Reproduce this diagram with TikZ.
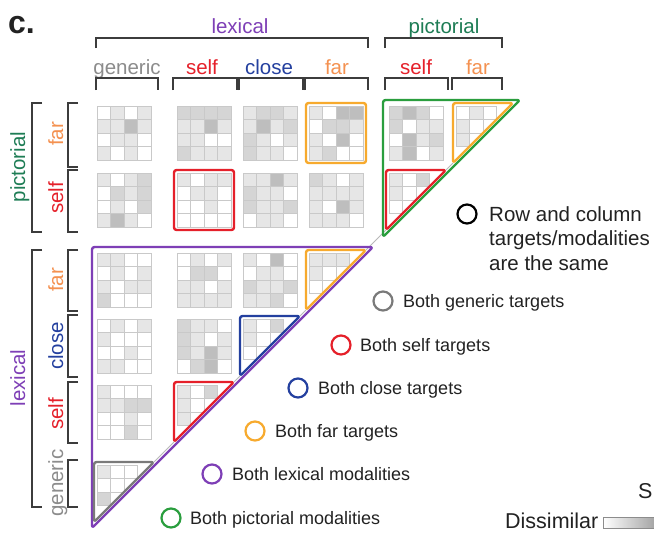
\documentclass[tikz,border=0pt]{standalone}
\usepackage{fontspec}
\setmainfont{Liberation Sans}
\usetikzlibrary{calc}
\definecolor{lexpurple}{HTML}{7E3FB6}
\definecolor{picgreen}{HTML}{1E7D55}
\definecolor{picline}{HTML}{2A9E3E}
\definecolor{selfred}{HTML}{E5202A}
\definecolor{closeblue}{HTML}{24409F}
\definecolor{fartext}{HTML}{F49150}
\definecolor{farline}{HTML}{F7AA2E}
\definecolor{gengray}{HTML}{8C8C8C}
\definecolor{genline}{HTML}{7A7A7A}
\definecolor{brackgray}{HTML}{3C3C3C}
\definecolor{ink}{HTML}{222222}
\definecolor{cellline}{HTML}{C9C9C9}
\definecolor{shade0}{HTML}{FFFFFF}
\definecolor{shade1}{HTML}{E6E6E6}
\definecolor{shade2}{HTML}{D5D5D5}
\definecolor{shade3}{HTML}{BEBEBE}

% full 4x4 block, shades given row by row
\newcommand\cellgrid[3]{%
  \foreach \s [count=\k from 0] in {#3} {%
    \pgfmathtruncatemacro\ci{div(\k,4)}%
    \pgfmathtruncatemacro\cj{mod(\k,4)}%
    \filldraw[cell, fill=shade\s] (#1+\cj*13.5, #2+\ci*13.5) rectangle ++(13.5,13.5);
  }}
% upper-left half of a block on the diagonal
\newcommand\trigrid[3]{%
  \foreach \s [count=\k from 0] in {#3} {%
    \pgfmathtruncatemacro\ci{{0,0,0,1,1,2}[\k]}%
    \pgfmathtruncatemacro\cj{{0,1,2,0,1,0}[\k]}%
    \filldraw[cell, fill=shade\s] (#1+\cj*13.5, #2+\ci*13.5) rectangle ++(13.5,13.5);
  }}
\newcommand\diagtri[3]{%
  \draw[hilite, draw=#1] (#2-3,#3-3) -- (#2+57,#3-3) -- (#2-3,#3+57) -- cycle;}

\begin{document}
\begin{tikzpicture}[x=1pt, y=-1pt, ink,
  cell/.style={draw=cellline, line width=0.6pt},
  hilite/.style={line width=2.4pt, rounded corners=2.5pt, line join=round},
  brack/.style={draw=brackgray, line width=1.5pt},
  lab/.style={font=\fontsize{20.5}{24}\selectfont, anchor=base, inner sep=0pt},
  keyring/.style={circle, draw, line width=2.2pt, minimum size=19pt, inner sep=0pt},
  keytext/.style={font=\fontsize{18}{22}\selectfont, anchor=base west, inner sep=0pt},
  faint/.style={draw=black!28, line width=0.9pt}]

\useasboundingbox[fill=white] (0,0) rectangle (654,533);

% panel letter
\node[font=\fontsize{32}{36}\selectfont\bfseries, anchor=base west, inner sep=0pt] (panel) at (8,33) {c.};

% column headings
\node[lab, text=lexpurple] (lexhead) at (240,33) {lexical};
\node[lab, text=picgreen] (pichead) at (444,33) {pictorial};
\draw[brack] (96,48) |- (368,38) -- (368,48);
\draw[brack] (385,48) |- (502,38) -- (502,48);
\node[lab, text=gengray] (hgen) at (127,74) {generic};
\node[lab, text=selfred] (hself) at (202,74) {self};
\node[lab, text=closeblue] (hclose) at (269,74) {close};
\node[lab, text=fartext] (hfar) at (337,74) {far};
\node[lab, text=selfred] (hpself) at (416,74) {self};
\node[lab, text=fartext] (hpfar) at (478,74) {far};
\foreach \a/\b in {96/158, 173/237, 239/303, 305/368, 385/448, 452/502}
  \draw[brack] (\a,90) |- (\b,78) -- (\b,90);

% row headings
\node[lab, text=picgreen, rotate=90] (picrow) at (25,167) {pictorial};
\node[lab, text=lexpurple, rotate=90] (lexrow) at (25,378) {lexical};
\draw[brack] (42,103) -| (32,232) -- (42,232);
\draw[brack] (42,250) -| (32,507) -- (42,507);
\node[lab, text=fartext, rotate=90] (rpfar) at (63,134) {far};
\node[lab, text=selfred, rotate=90] (rpself) at (63,198) {self};
\node[lab, text=fartext, rotate=90] (rfar) at (63,280) {far};
\node[lab, text=closeblue, rotate=90] (rclose) at (63,346) {close};
\node[lab, text=selfred, rotate=90] (rself) at (63,414) {self};
\node[lab, text=gengray, rotate=90] (rgen) at (63,483) {generic};
\foreach \a/\b in {103/167, 170/232, 250/311, 315/377, 382/443, 460/507}
  \draw[brack] (78,\a) -| (68,\b) -- (78,\b);

% row pictorial far
\cellgrid{97}{106}{0,1,0,1, 1,1,3,1, 0,1,1,0, 1,0,1,0}
\cellgrid{177}{106}{2,2,2,2, 1,1,3,1, 1,1,0,0, 2,1,1,1}
\cellgrid{243}{106}{1,2,2,1, 1,3,1,2, 2,1,0,1, 2,1,1,0}
\cellgrid{309}{106}{1,0,3,3, 0,2,2,1, 1,0,3,0, 1,2,0,0}
\cellgrid{389}{106}{2,3,2,0, 2,0,1,1, 0,3,1,2, 1,3,0,1}
\trigrid{456}{106}{0,1,0, 1,0, 1}
% row pictorial self
\cellgrid{97}{173}{1,0,1,2, 0,2,1,2, 0,1,0,2, 1,3,1,0}
\cellgrid{177}{173}{1,0,1,1, 0,1,1,0, 0,0,1,0, 0,0,0,0}
\cellgrid{243}{173}{1,1,3,1, 2,1,1,0, 2,1,1,2, 0,1,1,0}
\cellgrid{309}{173}{2,1,0,1, 1,1,1,1, 1,0,3,1, 1,1,1,0}
\trigrid{389}{173}{1,0,2, 1,0, 0}
% row lexical far
\cellgrid{97}{253}{1,1,0,0, 0,1,0,1, 1,0,1,1, 2,0,0,0}
\cellgrid{177}{253}{0,1,0,1, 0,2,2,0, 1,1,0,1, 1,1,1,1}
\cellgrid{243}{253}{1,0,3,0, 0,1,1,0, 2,1,1,2, 1,1,2,0}
\trigrid{309}{253}{1,1,1, 1,0, 0}
% row lexical close
\cellgrid{97}{319}{0,1,0,1, 1,0,0,0, 0,0,1,0, 1,1,0,0}
\cellgrid{177}{319}{2,1,1,0, 2,1,0,1, 2,1,3,1, 0,2,3,0}
\trigrid{243}{319}{1,0,2, 1,0, 0}
% row lexical self
\cellgrid{97}{385}{1,0,0,0, 1,1,2,2, 0,0,1,0, 0,0,2,0}
\trigrid{177}{385}{1,0,2, 1,0, 1}
% row lexical generic
\trigrid{97}{465}{1,0,0, 0,0, 2}

% diagonal between blocks
\draw[faint] (453,163) -- (446,170);
\draw[faint] (386,230) -- (366,250);
\draw[faint] (306,310) -- (300,316);
\draw[faint] (240,376) -- (234,382);
\draw[faint] (174,442) -- (154,462);

% modality outlines
\draw[hilite, draw=picline] (383,100) -- (520,100) -- (383,237) -- cycle;
\draw[hilite, draw=lexpurple] (92,247) -- (373,247) -- (92,528) -- cycle;

% target outlines
\diagtri{farline}{456}{106}
\diagtri{selfred}{389}{173}
\diagtri{farline}{309}{253}
\diagtri{closeblue}{243}{319}
\diagtri{selfred}{177}{385}
\diagtri{genline}{97}{465}
\draw[hilite, draw=farline] (306,103) rectangle (366,163);
\draw[hilite, draw=selfred] (174,170) rectangle (234,230);

% legend
\node[keyring, draw=black] (ksame) at (467,214) {};
\node[font=\fontsize{20.5}{24.5}\selectfont, align=left, anchor=north west, inner sep=0pt] (tsame) at (489,206) {Row and column\\targets/modalities\\are the same};
\node[keyring, draw=genline] (kgen) at (383,301) {};
\node[keytext] (tgen) at (403,307.5) {Both generic targets};
\node[keyring, draw=selfred] (kself) at (341,345) {};
\node[keytext] (tself) at (360,351.5) {Both self targets};
\node[keyring, draw=closeblue] (kclose) at (298,388) {};
\node[keytext] (tclose) at (318,394.5) {Both close targets};
\node[keyring, draw=farline] (kfar) at (255,431) {};
\node[keytext] (tfar) at (275,437.5) {Both far targets};
\node[keyring, draw=lexpurple] (klex) at (212,474) {};
\node[keytext] (tlex) at (232,480.5) {Both lexical modalities};
\node[keyring, draw=picline] (kpic) at (171,518) {};
\node[keytext] (tpic) at (190,524.5) {Both pictorial modalities};

% scale
\node[font=\fontsize{21.5}{24}\selectfont, anchor=base west, inner sep=0pt] (sim) at (638,498) {S};
\node[font=\fontsize{21.5}{24}\selectfont, anchor=base west, inner sep=0pt] (dis) at (505,528) {Dissimilar};
\shade[left color=white, right color=black!35] (603,517) rectangle (654,528);
\draw[draw=black!45, line width=0.8pt] (654,517) -- (603,517) -- (603,528) -- (654,528);

\end{tikzpicture}
\end{document}
